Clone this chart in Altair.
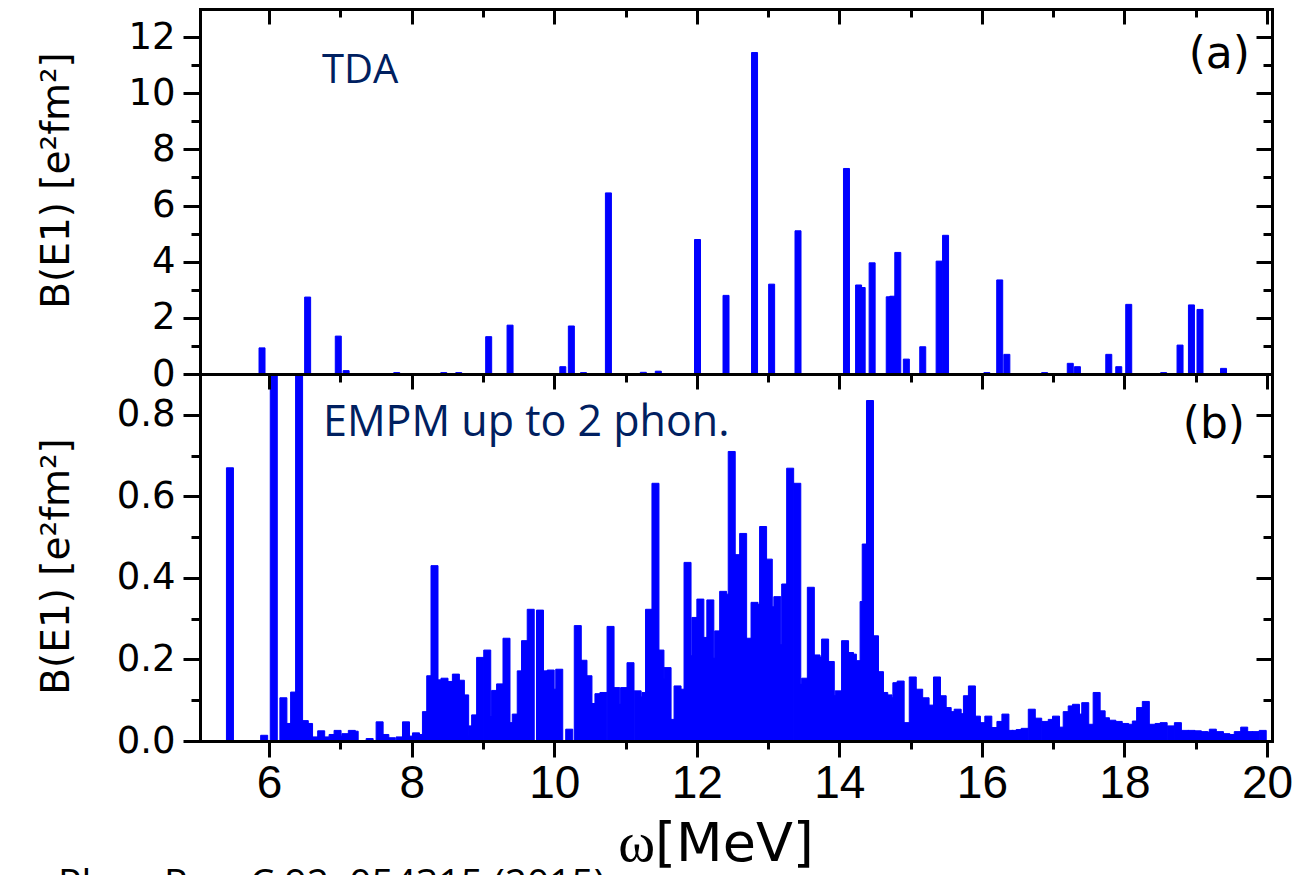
import altair as alt
import pandas as pd

# TDA dipole strengths: excitation energy [MeV] and B(E1) [e^2 fm^2]
tda_energy = [5.90, 6.54, 6.97, 7.08, 7.79, 8.45, 8.66, 9.08, 9.38, 10.12,
              10.24, 10.41, 10.76, 11.25, 11.46, 12.01, 12.41, 12.81, 13.05, 13.42,
              14.10, 14.27, 14.32, 14.46, 14.70, 14.75, 14.82, 14.94, 15.17, 15.40,
              15.49, 16.07, 16.25, 16.35, 16.88, 17.24, 17.34, 17.78, 17.92, 18.06,
              18.55, 18.78, 18.94, 19.06, 19.39]
tda_b = [0.93, 2.74, 1.35, 0.12, 0.05, 0.05, 0.05, 1.33, 1.74, 0.26,
         1.71, 0.05, 6.45, 0.06, 0.10, 4.79, 2.80, 11.45, 3.20, 5.10,
         7.32, 3.17, 3.08, 3.96, 2.75, 2.77, 4.33, 0.53, 0.97, 4.02,
         4.94, 0.05, 3.35, 0.70, 0.05, 0.38, 0.26, 0.70, 0.26, 2.48,
         0.05, 1.03, 2.46, 2.30, 0.20]

# EMPM (up to two phonons) dipole strengths
empm_energy = [5.45, 5.93, 6.065, 6.20, 6.28, 6.32, 6.35, 6.42, 6.50, 6.56,
               6.64, 6.73, 6.79, 6.89, 6.96, 7.02, 7.07, 7.16, 7.20, 7.41,
               7.55, 7.63, 7.72, 7.83, 7.92, 8.00, 8.06, 8.13, 8.20, 8.26,
               8.32, 8.40, 8.46, 8.53, 8.62, 8.69, 8.75, 8.80, 8.85, 8.89,
               8.96, 9.06, 9.12, 9.17, 9.24, 9.33, 9.40, 9.46, 9.53, 9.59,
               9.67, 9.80, 9.88, 9.95, 10.01, 10.07, 10.21, 10.33, 10.41, 10.48,
               10.55, 10.62, 10.69, 10.79, 10.87, 10.92, 10.98, 11.07, 11.17, 11.23,
               11.28, 11.33, 11.42, 11.49, 11.52, 11.59, 11.66, 11.73, 11.79, 11.87,
               11.94, 11.98, 12.05, 12.12, 12.19, 12.26, 12.30, 12.37, 12.43, 12.49,
               12.57, 12.65, 12.73, 12.81, 12.87, 12.93, 13.01, 13.06, 13.13, 13.20,
               13.24, 13.31, 13.41, 13.48, 13.52, 13.60, 13.68, 13.73, 13.80, 13.88,
               13.94, 13.99, 14.08, 14.15, 14.19, 14.24, 14.29, 14.34, 14.37, 14.43,
               14.50, 14.57, 14.63, 14.69, 14.75, 14.80, 14.86, 14.94, 15.03, 15.12,
               15.21, 15.29, 15.37, 15.45, 15.52, 15.59, 15.66, 15.73, 15.79, 15.86,
               15.93, 16.00, 16.09, 16.18, 16.26, 16.33, 16.39, 16.47, 16.53, 16.60,
               16.70, 16.79, 16.89, 16.98, 17.04, 17.11, 17.19, 17.26, 17.32, 17.38,
               17.45, 17.53, 17.61, 17.68, 17.74, 17.83, 17.92, 18.01, 18.09, 18.16,
               18.22, 18.30, 18.39, 18.48, 18.55, 18.65, 18.75, 18.85, 18.94, 19.03,
               19.12, 19.18, 19.24, 19.34, 19.43, 19.52, 19.59, 19.68, 19.75, 19.84,
               19.94]
empm_b = [0.670, 0.014, 1.600, 0.106, 0.043, 0.018, 0.120, 2.300, 0.050, 0.043,
          0.010, 0.025, 0.010, 0.016, 0.026, 0.012, 0.018, 0.026, 0.024, 0.006,
          0.047, 0.016, 0.008, 0.010, 0.047, 0.012, 0.020, 0.016, 0.072, 0.160,
          0.430, 0.150, 0.154, 0.146, 0.164, 0.149, 0.113, 0.012, 0.037, 0.064,
          0.205, 0.223, 0.060, 0.124, 0.140, 0.252, 0.045, 0.066, 0.172, 0.246,
          0.323, 0.321, 0.172, 0.174, 0.127, 0.176, 0.029, 0.283, 0.198, 0.160,
          0.092, 0.116, 0.119, 0.281, 0.131, 0.090, 0.131, 0.192, 0.123, 0.108,
          0.119, 0.323, 0.632, 0.223, 0.152, 0.180, 0.053, 0.135, 0.127, 0.438,
          0.209, 0.303, 0.348, 0.254, 0.346, 0.203, 0.270, 0.367, 0.360, 0.710,
          0.457, 0.509, 0.252, 0.340, 0.335, 0.526, 0.446, 0.329, 0.354, 0.236,
          0.385, 0.669, 0.632, 0.139, 0.154, 0.377, 0.211, 0.206, 0.250, 0.195,
          0.111, 0.123, 0.246, 0.217, 0.213, 0.154, 0.197, 0.342, 0.483, 0.835,
          0.258, 0.170, 0.119, 0.113, 0.106, 0.143, 0.147, 0.045, 0.157, 0.127,
          0.106, 0.088, 0.157, 0.111, 0.082, 0.072, 0.078, 0.067, 0.111, 0.135,
          0.061, 0.045, 0.061, 0.033, 0.048, 0.066, 0.026, 0.026, 0.028, 0.031,
          0.078, 0.056, 0.048, 0.053, 0.061, 0.034, 0.072, 0.086, 0.090, 0.066,
          0.094, 0.041, 0.119, 0.074, 0.057, 0.051, 0.048, 0.043, 0.041, 0.049,
          0.082, 0.097, 0.041, 0.043, 0.045, 0.037, 0.045, 0.026, 0.026, 0.025,
          0.023, 0.022, 0.029, 0.023, 0.018, 0.016, 0.023, 0.034, 0.023, 0.023,
          0.026]

x_ticks = list(range(6, 21))
top_y_ticks = list(range(0, 13))
bottom_y_ticks = [round(0.1 * i, 1) for i in range(0, 9)]

tda = pd.DataFrame({"E": tda_energy, "B": tda_b})
empm = pd.DataFrame({"E": empm_energy, "B": empm_b})

W = 1072
H_TOP = 365
H_BOT = 367
LEFT, TOP = 200, 9
PAGE_W, PAGE_H = 1304, 875
BLUE = "#0000ff"
NAVY = "#002060"
AXIS_FONT = "DejaVu Sans"
TICK_FONT = "Liberation Sans"
NOTE_FONT = "Open Sans"
Y_TITLE = "B(E1) [e²fm²]"

x_scale = alt.Scale(domain=[5.1, 20], nice=False, zero=False)
top_y_scale = alt.Scale(domain=[0, 13], nice=False)
bottom_y_scale = alt.Scale(domain=[0, 0.9], nice=False)

X_MINOR = "datum.value % 2 !== 0"
TOP_Y_MINOR = "datum.value % 2 !== 0"
BOT_Y_MINOR = "round(datum.value * 10) % 2 !== 0"


def tick_size(minor_test, major, minor):
    return {"condition": {"test": minor_test, "value": minor}, "value": major}


LINE = dict(domainColor="black", domainWidth=3, domainCap="square",
            tickColor="black", tickWidth=3, zindex=1, grid=False)


def inner_x_axis(height):
    # ticks along the upper frame edge, pointing into the panel
    return alt.Axis(orient="bottom", offset=-height, values=x_ticks, labels=False,
                    title=None, tickSize=tick_size(X_MINOR, 15, 8), **LINE)


def outer_x_axis():
    return alt.Axis(orient="bottom", values=x_ticks,
                    labelExpr="datum.value % 2 === 0 ? datum.label : ''",
                    labelFont=TICK_FONT, labelFontSize=46, labelColor="black",
                    labelPadding=4, labelFlush=False, labelOverlap=False,
                    title=None, tickSize=tick_size(X_MINOR, 16, 8), **LINE)


def left_y_axis(values, minor_test, label_expr, title_y):
    return alt.Axis(orient="left", values=values, labelExpr=label_expr,
                    labelFont=AXIS_FONT, labelFontSize=37, labelColor="black",
                    labelPadding=8, labelFlush=False, labelOverlap=False,
                    title=Y_TITLE, titleFont=AXIS_FONT, titleFontSize=39,
                    titleFontWeight="normal", titleColor="black",
                    titleX=-124, titleY=title_y,
                    tickSize=tick_size(minor_test, 17, 9), **LINE)


def right_y_axis(values, minor_test):
    # ticks along the right frame edge, pointing into the panel
    return alt.Axis(orient="left", offset=-W, values=values, labels=False,
                    title=None, tickSize=tick_size(minor_test, 16, 9), **LINE)


def note(text, x, y, font, size, color="black", align="left"):
    return alt.Chart(pd.DataFrame({"text": [text]})).mark_text(
        align=align, baseline="alphabetic", font=font, fontSize=size, color=color
    ).encode(x=alt.value(x), y=alt.value(y), text="text:N")


def sticks(df, width):
    # a thin stroke in the fill colour closes the seams between neighbouring lines
    return alt.Chart(df).mark_bar(orient="vertical", size=width, color=BLUE,
                                  stroke=BLUE, strokeWidth=1, clip=True)


# panel (a): TDA
bars_top = sticks(tda, 6).encode(
    x=alt.X("E:Q", scale=x_scale, axis=inner_x_axis(H_TOP)),
    y=alt.Y("B:Q", scale=top_y_scale,
            axis=left_y_axis(top_y_ticks, TOP_Y_MINOR,
                             "datum.value % 2 === 0 ? datum.label : ''", 171)),
)
frame_top = alt.Chart(tda).mark_point(opacity=0).encode(
    x=alt.X("E:Q", scale=x_scale, axis=None),
    y=alt.Y("B:Q", scale=top_y_scale, axis=right_y_axis(top_y_ticks, TOP_Y_MINOR)),
)
top = alt.layer(
    bars_top, frame_top,
    note("TDA", 122, 74, NOTE_FONT, 40, NAVY),
    note("(a)", 1050, 59, AXIS_FONT, 44, align="right"),
).resolve_axis(x="independent", y="independent").properties(width=W, height=H_TOP)

# panel (b): EMPM
bars_bot = sticks(empm, 7).encode(
    x=alt.X("E:Q", scale=x_scale, axis=outer_x_axis()),
    y=alt.Y("B:Q", scale=bottom_y_scale,
            axis=left_y_axis(bottom_y_ticks, BOT_Y_MINOR,
                             "round(datum.value * 10) % 2 === 0 ? format(datum.value, '.1f') : ''",
                             192)),
)
frame_bot = alt.Chart(empm).mark_point(opacity=0).encode(
    x=alt.X("E:Q", scale=x_scale, axis=inner_x_axis(H_BOT)),
    y=alt.Y("B:Q", scale=bottom_y_scale, axis=right_y_axis(bottom_y_ticks, BOT_Y_MINOR)),
)
bottom = alt.layer(
    bars_bot, frame_bot,
    note("EMPM up to 2 phon.", 123, 62, NOTE_FONT, 43, NAVY),
    note("(b)", 1045, 64, AXIS_FONT, 44, align="right"),
    note("ω", 455, 487, "Liberation Serif", 56, align="right"),
    note("[MeV]", 455, 487, AXIS_FONT, 54),
    note("Phys. Rev. C 92, 054315 (2015)", -142, 523, NOTE_FONT, 39),
).resolve_axis(x="independent", y="independent").properties(width=W, height=H_BOT)

# fixed page: the concat layout supplies the plot width, the padding the rest
chart = alt.vconcat(top, bottom, spacing=0, bounds="flush").properties(
    autosize=alt.AutoSizeParams(type="none"),
    padding={"left": LEFT, "top": TOP, "right": PAGE_W - LEFT - W, "bottom": PAGE_H - TOP},
    background="white",
).configure_view(stroke=None)

chart.save("out.html", embed_options={"renderer": "svg", "actions": False})
